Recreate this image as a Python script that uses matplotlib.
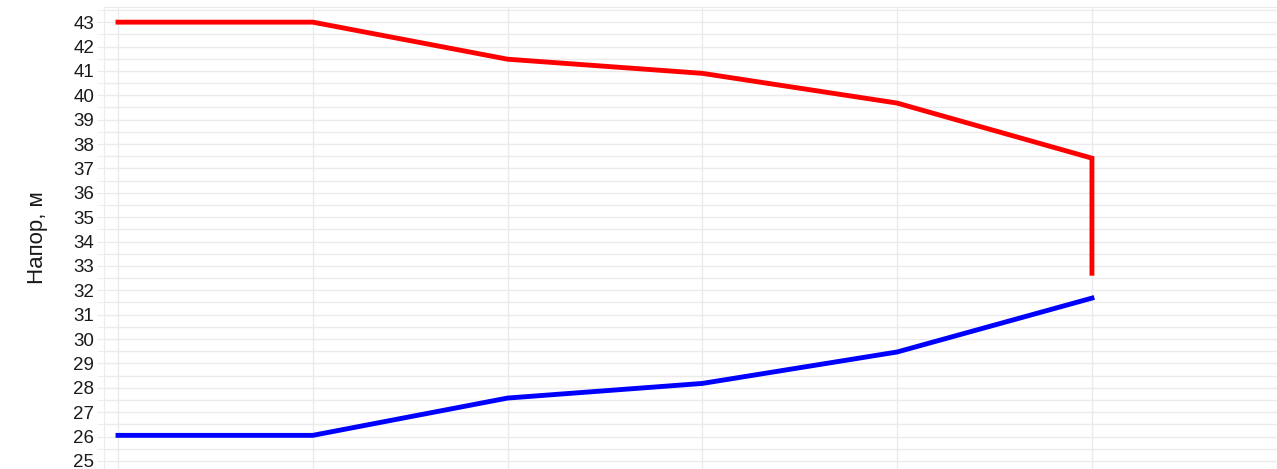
import matplotlib
matplotlib.use("Agg")
import matplotlib.pyplot as plt
from matplotlib.ticker import MultipleLocator

plt.rcParams['font.family'] = ['Liberation Sans', 'DejaVu Sans']

# points along the pipeline
x = [0, 1, 2, 3, 4, 5, 5]
supply = [43.0, 43.0, 41.48, 40.9, 39.68, 37.42, 32.7]   # red
x_ret = [0, 1, 2, 3, 4, 5]
ret = [26.05, 26.05, 27.58, 28.18, 29.47, 31.68]          # blue

grid_c = "#ebebeb"

fig = plt.figure(figsize=(12.77, 4.69), dpi=100)
ax = fig.add_axes([0.0814, 0.0, 0.9186, 0.985])

ax.plot(x, supply, color=(1, 0, 0), lw=3.5, solid_joinstyle="miter")
ax.plot(x_ret, ret, color=(0, 0, 1), lw=3.5, solid_joinstyle="miter")

ax.set_xlim(-0.072, 5.95)
ax.set_ylim(24.67, 43.62)
ax.yaxis.set_major_locator(MultipleLocator(1))
ax.yaxis.set_minor_locator(MultipleLocator(0.5))
ax.xaxis.set_major_locator(MultipleLocator(1))
ax.set_xticklabels([])

ax.grid(True, which="both", axis="y", color=grid_c, lw=1)
ax.grid(True, which="major", axis="x", color=grid_c, lw=1)
ax.set_axisbelow(True)
for s in ax.spines.values():
    s.set_color(grid_c)
ax.spines["bottom"].set_visible(False)

ax.tick_params(axis="y", which="both", length=5, color=grid_c, labelsize=13.5,
               labelcolor="#1a1a1a", pad=2)
ax.tick_params(axis="x", length=0)

ax.set_ylabel("Напор, м", fontsize=16, color="#1a1a1a", labelpad=18)

fig.savefig("out.png", dpi=100)
